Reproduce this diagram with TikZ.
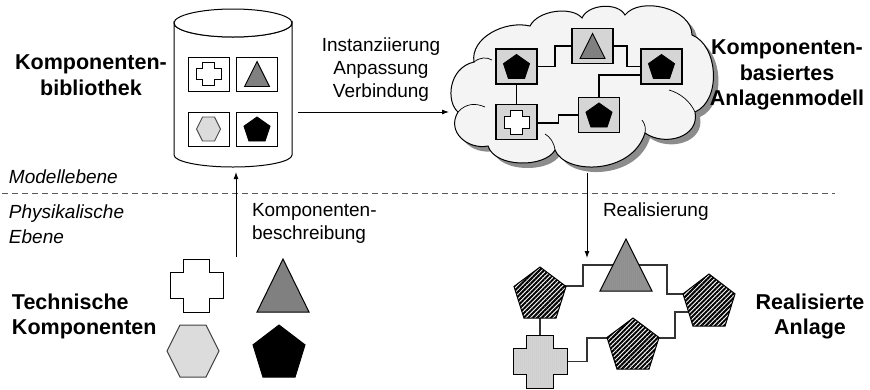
\documentclass[tikz,border=0pt]{standalone}
\usepackage{fontspec}
\setmainfont{Liberation Sans}
\usetikzlibrary{arrows.meta,patterns,patterns.meta,calc}

\definecolor{midgray}{RGB}{128,128,128}
\definecolor{hexgray}{RGB}{220,220,220}
\definecolor{trigray}{RGB}{140,140,140}
\definecolor{crossgray}{RGB}{215,215,215}
\definecolor{boxgray}{RGB}{218,218,218}
\definecolor{cloudfill}{RGB}{244,244,244}
\definecolor{cloudshade}{RGB}{140,140,140}

\tikzset{
  % outline figures, centred on the pic origin; #1 = width, #2 = height
  pics/pent/.style n args={2}{code={
    \path[pic actions] (0,{-0.5*#2}) -- ({0.5*#1},{-0.118*#2}) -- ({0.309*#1},{0.5*#2})
      -- ({-0.309*#1},{0.5*#2}) -- ({-0.5*#1},{-0.118*#2}) -- cycle;}},
  pics/tri/.style n args={2}{code={
    \path[pic actions] (0,{-0.5*#2}) -- ({0.5*#1},{0.5*#2}) -- ({-0.5*#1},{0.5*#2}) -- cycle;}},
  pics/hexa/.style n args={2}{code={
    \path[pic actions] ({-0.5*#1},0) -- ({-0.25*#1},{-0.5*#2}) -- ({0.25*#1},{-0.5*#2})
      -- ({0.5*#1},0) -- ({0.25*#1},{0.5*#2}) -- ({-0.25*#1},{0.5*#2}) -- cycle;}},
  pics/crossfig/.style n args={2}{code={
    \path[pic actions] ({-0.5*#1},{-0.25*#2}) -- ({-0.25*#1},{-0.25*#2}) -- ({-0.25*#1},{-0.5*#2})
      -- ({0.25*#1},{-0.5*#2}) -- ({0.25*#1},{-0.25*#2}) -- ({0.5*#1},{-0.25*#2})
      -- ({0.5*#1},{0.25*#2}) -- ({0.25*#1},{0.25*#2}) -- ({0.25*#1},{0.5*#2})
      -- ({-0.25*#1},{0.5*#2}) -- ({-0.25*#1},{0.25*#2}) -- ({-0.5*#1},{0.25*#2}) -- cycle;}},
  % cloud outline of the plant model
  cloudpath/.style={insert path={
    (458,112) .. controls (446,102) and (448,68) .. (474,62)
    .. controls (470,38) and (505,20) .. (530,26)
    .. controls (538,10) and (572,6) .. (582,18)
    .. controls (588,4) and (618,2) .. (625,15)
    .. controls (640,-4) and (692,8) .. (692,35)
    .. controls (718,45) and (722,100) .. (695,112)
    .. controls (700,137) and (665,147) .. (645,133)
    .. controls (632,175) and (565,175) .. (555,150)
    .. controls (545,168) and (495,168) .. (488,146)
    .. controls (468,150) and (446,132) .. (458,112) -- cycle}},
  dotted texture/.style={pattern={Dots[distance=2pt,radius=0.5pt]}, pattern color=#1},
  hatched/.style={draw=black, line width=1pt,
    pattern={Lines[angle=45,distance=3.2pt,line width=2pt]}, pattern color=black},
}

\begin{document}
\begin{tikzpicture}[x=1pt,y=-1pt,
  every node/.style={inner sep=0pt, outer sep=0pt},
  libbox/.style={draw=black, line width=1pt, fill=white, minimum width=41pt, minimum height=34pt},
  modbox/.style={draw=black, line width=1.3pt, minimum width=41pt, minimum height=35pt,
    preaction={fill=boxgray}, pattern={Dots[distance=2pt,radius=0.55pt]}, pattern color=gray!45},
  wire/.style={draw=black, line width=1.3pt},
  plantwire/.style={draw=black!80, line width=1.1pt},
  flow/.style={draw=black, line width=0.9pt, -{Latex[length=7pt,width=5pt]}},
  levelline/.style={draw=black!65, line width=0.9pt, dash pattern=on 6pt off 4pt},
  boldlabel/.style={font=\fontsize{21.5}{25.5}\selectfont\bfseries, align=center},
  textlabel/.style={font=\fontsize{19}{23}\selectfont},
  levellabel/.style={font=\fontsize{19}{25}\selectfont\itshape, align=left, anchor=west},
  curl/.style={draw=black, line width=0.7pt},
]
\useasboundingbox (0,0) rectangle (870,389);

% ---------- component library (cylinder) ----------
\path[draw=black, line width=1pt, fill=white]
  (174,23) -- (174,155) arc[start angle=180, end angle=0, x radius=59, y radius=12]
  -- (292,23) arc[start angle=0, end angle=180, x radius=59, y radius=14] -- cycle;
\draw[line width=1pt, fill=white] (233,23) ellipse[x radius=59, y radius=14];

\node[libbox] (l1) at (208.5,74) {};
\node[libbox] (l2) at (257,74) {};
\node[libbox] (l3) at (208.5,129) {};
\node[libbox] (l4) at (257,129) {};
\pic[draw=black, line width=0.9pt, fill=white] at (l1) {crossfig={25}{23}};
\pic[draw=black, line width=0.9pt, fill=midgray] at (l2) {tri={25}{25}};
\pic[draw=black!70, line width=0.9pt, fill=hexgray] at (l3) {hexa={24}{24}};
\pic[draw=black, line width=0.9pt, fill=black] at (l4) {pent={26}{24}};

\node[boldlabel] (libtitle) at (91,75) {Komponenten-\\bibliothek};

% ---------- operations arrow ----------
\node[textlabel, align=center] (ops) at (381,70) {Instanziierung\\Anpassung\\Verbindung};
\coordinate (opsstart) at (298,112);
\coordinate (opsend) at (449,112);
\draw[flow] (opsstart) -- (opsend);

% ---------- component based plant model (cloud) ----------
\fill[cloudshade, shift={(5,5)}, cloudpath];
\path[draw=black, line width=1pt, fill=cloudfill, cloudpath];
\draw[curl] (458,112) .. controls (466,103) and (476,103) .. (485,107);
\draw[curl] (474,62) .. controls (480,57) and (487,57) .. (492,60);
\draw[curl] (695,112) .. controls (690,101) and (680,93) .. (669,90);
\draw[curl] (555,150) .. controls (554,142) and (550,137) .. (545,134);
\draw[curl] (645,133) .. controls (646,128) and (645,124) .. (642,120);

\node[modbox] (m1) at (516.5,66.5) {};
\node[modbox] (m2) at (592.5,46) {};
\node[modbox] (m3) at (661.5,66.5) {};
\node[modbox] (m4) at (516.5,122) {};
\node[modbox] (m5) at (599,115) {};
\draw[wire] (m1.east) -| ($(m2.west)+(-17,0)$) -- (m2.west);
\draw[wire] (m2.east) -| ($(m3.west)+(-14,0)$) -- (m3.west);
\draw[wire] ($(m3.west)+(0,8.5)$) -| (m5.north);
\draw[wire] (m1.south) -- (m4.north);
\draw[wire] ($(m4.east)+(0,1)$) -| ($(m5.west)+(-20,0)$) -- (m5.west);
\pic[draw=black, line width=0.9pt, fill=black] at (m1) {pent={26}{24}};
\pic[draw=black, line width=0.9pt, fill=midgray] at (m2) {tri={25}{25}};
\pic[draw=black, line width=0.9pt, fill=black] at (m3) {pent={26}{24}};
\pic[draw=black, line width=1pt, fill=white] at (m4) {crossfig={25}{24}};
\pic[draw=black, line width=0.9pt, fill=black] at (m5) {pent={26}{24}};

\node[boldlabel] (modtitle) at (787,75) {Komponenten-\\basiertes\\Anlagenmodell};

% ---------- level separator ----------
\coordinate (sepleft) at (2,193);
\coordinate (sepright) at (835,193);
\draw[levelline] (sepleft) -- (sepright);
\node[levellabel] (lvlmod) at (9,177) {Modellebene};
\node[levellabel] (lvlphys) at (9,224.5) {Physikalische\\Ebene};

% ---------- component description ----------
\coordinate (descstart) at (236,257);
\coordinate (descend) at (236,172);
\draw[flow] (descstart) -- (descend);
\node[textlabel, align=left, anchor=west] (desc) at (252,223.5) {Komponenten-\\beschreibung};

% ---------- technical components ----------
\coordinate (t1) at (196.5,285.5);
\coordinate (t2) at (283,285.5);
\coordinate (t3) at (193,351);
\coordinate (t4) at (279,351);
\pic[draw=black, line width=1pt, fill=white] at (t1) {crossfig={53}{53}};
\pic[draw=black, line width=1pt, fill=midgray] at (t2) {tri={52}{53}};
\pic[draw=black!75, line width=1pt, fill=hexgray] at (t3) {hexa={52}{52}};
\pic[draw=black, line width=1pt, fill=black] at (t4) {pent={52}{52}};
\node[boldlabel, align=left, anchor=west] (techtitle) at (12,316.5) {Technische\\Komponenten};

% ---------- realisation ----------
\coordinate (realstart) at (587,173);
\coordinate (realend) at (587,258);
\draw[flow] (realstart) -- (realend);
\node[textlabel, anchor=west] (real) at (603,212) {Realisierung};

\coordinate (r1) at (540,292.5);
\coordinate (r2) at (626,265);
\coordinate (r3) at (709,300);
\coordinate (r4) at (633,343.5);
\coordinate (r5) at (540,361.5);
\draw[plantwire] ($(r1)+(0,-6.5)$) -| ($(r2)+(-43,0)$) -- (r2);
\draw[plantwire] (r2) -| ($(r3)+(-42,-6)$) -- ($(r3)+(0,-6)$);
\draw[plantwire] ($(r3)+(0,12)$) -| ($(r4)+(42,-5.5)$) -- ($(r4)+(0,-5.5)$);
\draw[plantwire] ($(r4)+(0,-5.5)$) -| ($(r5)+(47,0)$) -- (r5);
\draw[plantwire] (r1) -- (r5);
% each realised part: an opaque ground first, then its texture and outline
\pic[fill=white] at (r1) {pent={52}{51}};
\pic[hatched] at (r1) {pent={52}{51}};
\pic[fill=white] at (r3) {pent={52}{52}};
\pic[hatched] at (r3) {pent={52}{52}};
\pic[fill=white] at (r4) {pent={52}{51}};
\pic[hatched] at (r4) {pent={52}{51}};
\pic[fill=trigray] at (r2) {tri={52}{52}};
\pic[draw=black, line width=1pt, dotted texture=black!30] at (r2) {tri={52}{52}};
\pic[fill=crossgray] at (r5) {crossfig={54}{53}};
\pic[draw=black, line width=1pt, dotted texture=gray!60] at (r5) {crossfig={54}{53}};

\node[boldlabel] (plant) at (810,316.5) {Realisierte\\Anlage};
\end{tikzpicture}
\end{document}
